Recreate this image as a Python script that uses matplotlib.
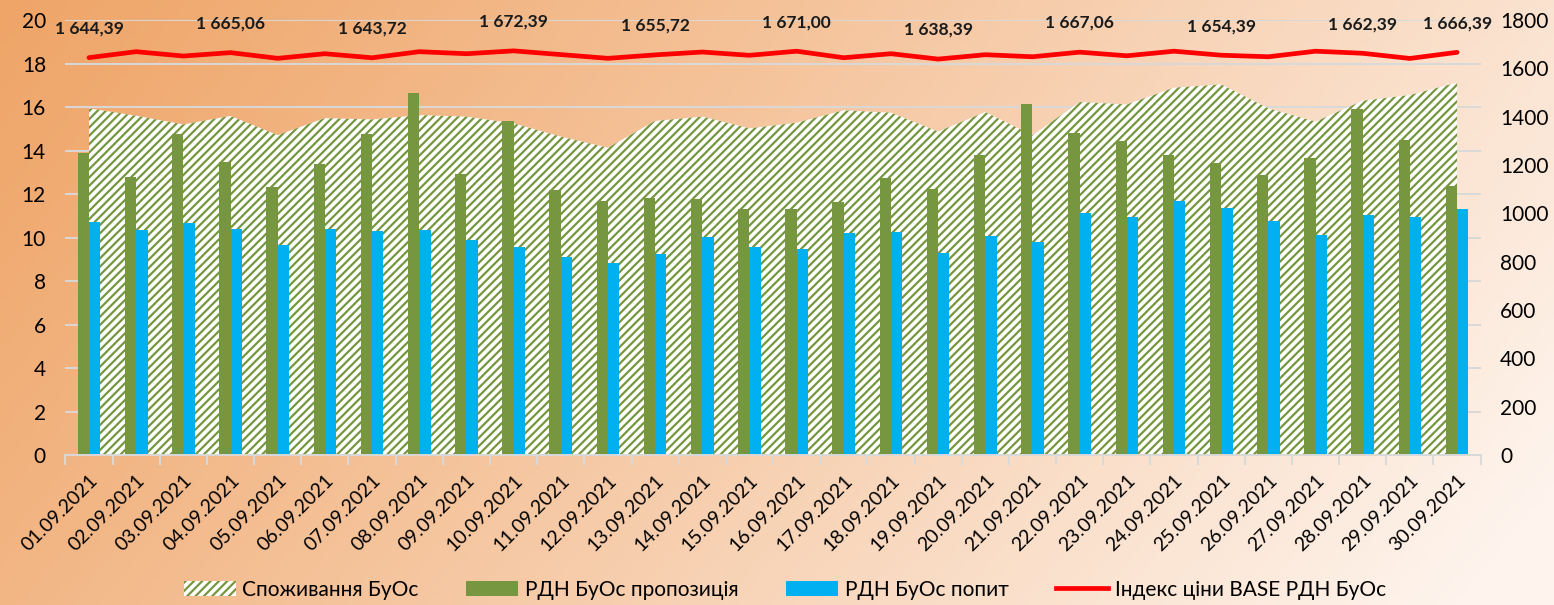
import numpy as np
import matplotlib.pyplot as plt
from matplotlib.patches import Patch
from matplotlib.lines import Line2D

plt.rcParams['font.family'] = ['Lato', 'DejaVu Sans']
plt.rcParams['hatch.linewidth'] = 1.6

dates = [f'{d:02d}.09.2021' for d in range(1, 31)]

consumption = [15.94, 15.6, 15.2, 15.59, 14.71, 15.49, 15.43, 15.63, 15.56, 15.25,
               14.64, 14.13, 15.36, 15.56, 15.02, 15.28, 15.85, 15.74, 14.87, 15.77,
               14.7, 16.23, 16.12, 16.89, 17.04, 15.94, 15.33, 16.29, 16.55, 17.12]

supply = [13.9, 12.77, 14.76, 13.47, 12.31, 13.38, 14.76, 16.66, 12.9, 15.34,
          12.18, 11.69, 11.83, 11.77, 11.3, 11.33, 11.62, 12.74, 12.22, 13.8,
          16.12, 14.8, 14.45, 13.79, 13.44, 12.87, 13.64, 15.91, 14.48, 12.38]

demand = [10.73, 10.34, 10.68, 10.39, 9.66, 10.37, 10.3, 10.34, 9.9, 9.55,
          9.1, 8.84, 9.26, 10.01, 9.55, 9.47, 10.22, 10.27, 9.27, 10.07,
          9.78, 11.13, 10.93, 11.66, 11.36, 10.77, 10.1, 11.05, 10.94, 11.3]

price = [1644.39, 1669.0, 1651.0, 1665.06, 1641.5, 1660.6, 1643.72, 1669.0, 1660.6, 1672.39,
         1657.0, 1641.5, 1655.72, 1667.6, 1654.0, 1671.00, 1644.0, 1660.6, 1638.39, 1656.5,
         1648.0, 1667.06, 1652.0, 1671.0, 1654.39, 1648.0, 1671.0, 1662.39, 1641.0, 1666.39]

labelled = [0, 3, 6, 9, 12, 15, 18, 21, 24, 27, 29]

GREEN = '#76963F'
BLUE = '#00B0F0'
RED = '#FF0000'
GRID = '#D9D9D9'


def fmt(v):
    s = f'{v:,.2f}'
    return s.replace(',', ' ').replace('.', ',')


fig = plt.figure(figsize=(15.54, 6.05), dpi=100)

# background gradient
bg = fig.add_axes([0, 0, 1, 1], zorder=-10)
gx, gy = np.meshgrid(np.linspace(0, 1, 400), np.linspace(0, 1, 160))
t = np.clip(0.8 * gx + 0.25 * gy, 0, 1) ** 1.1
c0 = np.array([239, 165, 104]) / 255
c1 = np.array([254, 244, 237]) / 255
img = c0[None, None, :] * (1 - t[..., None]) + c1[None, None, :] * t[..., None]
bg.imshow(img, aspect='auto', extent=[0, 1, 0, 1], origin='upper')
bg.axis('off')

ax = fig.add_axes([0.0421, 0.2479, 0.9107, 0.7190])
ax.patch.set_alpha(0)
x = np.arange(len(dates))
w = 0.24

ax.fill_between(x, 0, consumption, facecolor='white', edgecolor=GREEN,
                hatch='////', linewidth=0, zorder=1)
ax.bar(x - w / 2, supply, width=w, color=GREEN, zorder=2)
ax.bar(x + w / 2, demand, width=w, color=BLUE, zorder=2)

ax.set_xlim(-0.5, len(dates) - 0.5)
ax.set_ylim(0, 20)
ax.set_yticks(range(0, 21, 2))
ax.yaxis.grid(True, color=GRID, linewidth=1.4)
ax.set_axisbelow(True)
ax.tick_params(axis='y', length=0, labelsize=15, pad=14)
ax.set_xticks(x)
ax.set_xticklabels(dates, rotation=45, ha='right', va='top', rotation_mode='anchor', fontsize=14)
ax.set_xticks(np.arange(-0.5, len(dates), 1), minor=True)
ax.tick_params(axis='x', which='major', length=0, pad=12)
ax.tick_params(axis='x', which='minor', length=7, color=GRID, width=1.4)
for s in ['top', 'right', 'left']:
    ax.spines[s].set_visible(False)
ax.spines['bottom'].set_color(GRID)
ax.spines['bottom'].set_linewidth(1.4)

ax2 = ax.twinx()
ax2.plot(x, price, color=RED, linewidth=3.4, solid_capstyle='round', zorder=5)
ax2.set_ylim(0, 1800)
ax2.set_yticks(range(0, 1801, 200))
ax2.tick_params(axis='y', length=0, labelsize=15, pad=14)
for s in ax2.spines.values():
    s.set_visible(False)

for i in labelled:
    ax2.annotate(fmt(price[i]), (x[i], price[i]), xytext=(0, 21), textcoords='offset points',
                 ha='center', va='center', fontsize=12.5, fontweight='bold', color='#1a1a1a')

handles = [
    Patch(facecolor='white', edgecolor=GREEN, hatch='////', linewidth=0, label='Споживання БуОс'),
    Patch(facecolor=GREEN, label='РДН БуОс пропозиція'),
    Patch(facecolor=BLUE, label='РДН БуОс попит'),
    Line2D([0], [0], color=RED, linewidth=3.4, label='Індекс ціни BASE РДН БуОс'),
]
fig.legend(handles=handles, loc='lower center', bbox_to_anchor=(0.505, -0.022), ncol=4,
           frameon=False, fontsize=15, handlelength=2.5, handleheight=0.7,
           columnspacing=2.3, handletextpad=0.3)

fig.savefig('out.png', dpi=100)
